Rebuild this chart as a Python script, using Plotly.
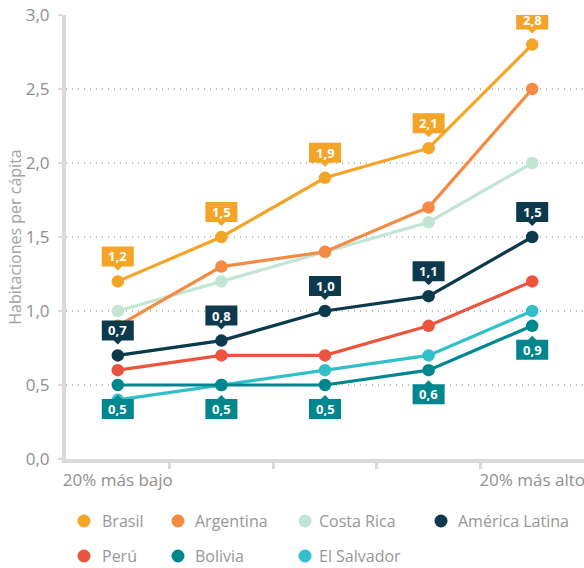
import plotly.graph_objects as go

# Quintiles of income (only the extremes are labelled on the axis)
quintiles = [0, 1, 2, 3, 4]
quintile_labels = ["20% más bajo", "20% más alto"]

# Rooms per capita by income quintile
series_names = ["Brasil", "Argentina", "Costa Rica", "América Latina", "Perú", "Bolivia", "El Salvador"]
brasil = [1.2, 1.5, 1.9, 2.1, 2.8]
argentina = [0.9, 1.3, 1.4, 1.7, 2.5]
costa_rica = [1.0, 1.2, 1.4, 1.6, 2.0]
america_latina = [0.7, 0.8, 1.0, 1.1, 1.5]
peru = [0.6, 0.7, 0.7, 0.9, 1.2]
bolivia = [0.5, 0.5, 0.5, 0.6, 0.9]
el_salvador = [0.4, 0.5, 0.6, 0.7, 1.0]

colors = {
    "Brasil": "#F4A426",
    "Argentina": "#F58A43",
    "Costa Rica": "#C2E5D4",
    "América Latina": "#0C3A4C",
    "Perú": "#E9553F",
    "Bolivia": "#00878E",
    "El Salvador": "#31BFC8",
}
values = {
    "Brasil": brasil,
    "Argentina": argentina,
    "Costa Rica": costa_rica,
    "América Latina": america_latina,
    "Perú": peru,
    "Bolivia": bolivia,
    "El Salvador": el_salvador,
}

# Series whose values get callout boxes, and on which side of the point
labelled = {"Brasil": "above", "América Latina": "above", "Bolivia": "below"}

FONT = "'Open Sans', sans-serif"
W, H = 584, 568
ML, MR, MT, MB = 66, 0, 15, 109
PW, PH = W - ML - MR, H - MT - MB

fig = go.Figure()

# draw order: lighter series first, so the darker lines sit on top
draw_order = ["Costa Rica", "Argentina", "Brasil", "Perú", "El Salvador", "Bolivia", "América Latina"]
for name in draw_order:
    fig.add_trace(go.Scatter(
        x=quintiles, y=values[name], name=name, mode="lines+markers",
        line=dict(color=colors[name], width=3.2),
        marker=dict(color=colors[name], size=12.5),
        showlegend=False, hoverinfo="skip",
    ))

shapes = []
annotations = []

BW = 16  # half box width in px
for name, side in labelled.items():
    c = colors[name]
    for xv, yv in zip(quintiles, values[name]):
        if side == "above":
            path = (f"M {-BW},15 L -4,15 L 0,11 L 4,15 L {BW},15 "
                    f"L {BW},35 L {-BW},35 Z")
            shift = 25
        else:
            path = (f"M {-BW},-14 L -4,-14 L 0,-10 L 4,-14 L {BW},-14 "
                    f"L {BW},-34 L {-BW},-34 Z")
            shift = -24
        shapes.append(dict(
            type="path", xref="x", yref="y", xsizemode="pixel", ysizemode="pixel",
            xanchor=xv, yanchor=yv, path=path, fillcolor=c, line=dict(width=0),
            layer="above",
        ))
        annotations.append(dict(
            x=xv, y=yv, xref="x", yref="y", yshift=shift, showarrow=False,
            text=f"{yv:.1f}".replace(".", ","),
            font=dict(family=FONT, size=13, color="white", weight="bold"),
        ))

# legend built as two rows of dot + name
legend_items = [
    ("Brasil", 84, 100, 521), ("Argentina", 178, 193, 521),
    ("Costa Rica", 305, 317, 521), ("América Latina", 441, 456, 521),
    ("Perú", 84, 100, 556), ("Bolivia", 178, 193, 556), ("El Salvador", 305, 317, 556),
]

def px_to_paper(px, py):
    return (px - ML) / PW, (H - MB - py) / PH

for name, cx, tx, ry in legend_items:
    ax, ay = px_to_paper(cx, ry)
    shapes.append(dict(
        type="circle", xref="paper", yref="paper", xsizemode="pixel", ysizemode="pixel",
        xanchor=ax, yanchor=ay, x0=-6.5, x1=6.5, y0=-6.5, y1=6.5,
        fillcolor=colors[name], line=dict(width=0),
    ))
    lx, ly = px_to_paper(tx, ry)
    annotations.append(dict(
        x=lx, y=ly, xref="paper", yref="paper", xanchor="left", yanchor="middle",
        showarrow=False, text=name,
        font=dict(family=FONT, size=16, color="#979797"),
    ))

fig.update_layout(
    width=W, height=H,
    margin=dict(l=ML, r=MR, t=MT, b=MB, pad=0),
    paper_bgcolor="white", plot_bgcolor="white",
    separators=",.",
    font=dict(family=FONT, size=16, color="#8f8f8f"),
    shapes=shapes, annotations=annotations,
    showlegend=False,
)
fig.update_xaxes(
    range=[-0.5, 4.5], tickmode="array", tickvals=[quintiles[0], quintiles[-1]],
    ticktext=quintile_labels, ticks="", showgrid=False, zeroline=False,
    showline=True, linecolor="#DADADA", linewidth=4,
    ticklabelstandoff=3, ticklabeloverflow="allow", tickfont=dict(size=17, color="#8f8f8f"),
    minor=dict(tickmode="array", tickvals=[0.5, 1.5, 2.5, 3.5], ticks="outside",
               ticklen=6, tickwidth=3, tickcolor="#DADADA", showgrid=False),
    fixedrange=True,
)
fig.update_yaxes(
    range=[0, 3], dtick=0.5, tickformat=".1f", ticks="outside", ticklen=4,
    tickwidth=2, tickcolor="#DADADA", showline=True, linecolor="#DADADA", linewidth=4,
    showgrid=True, gridcolor="#BDBDBD", griddash="1px,5px", gridwidth=1.5, zeroline=False,
    ticklabelstandoff=5, tickfont=dict(size=17, color="#8f8f8f"),
    title=dict(text="Habitaciones per cápita", font=dict(size=16, color="#a3a3a3"), standoff=0),
    fixedrange=True,
)

fig.write_html("out.html", config={"displayModeBar": False})
